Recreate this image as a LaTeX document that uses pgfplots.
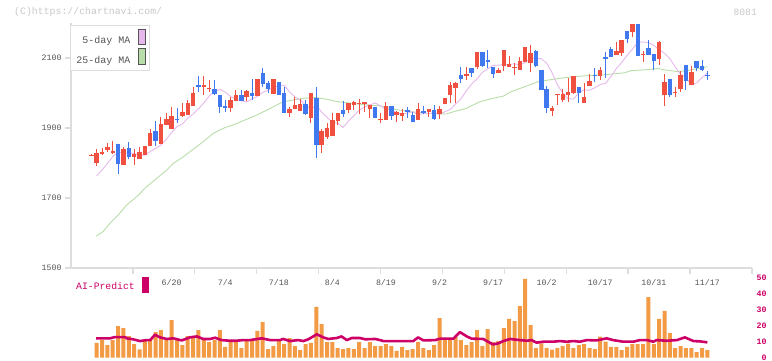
\documentclass[border=0pt]{standalone}
\usepackage{fontspec}
\usepackage{pgfplots}
\pgfplotsset{compat=1.18}
\usepackage{pgfplotstable}
\newfontfamily\mono{Liberation Mono}
\definecolor{upc}{HTML}{F05040}
\definecolor{dnc}{HTML}{4078F0}
\definecolor{volc}{HTML}{F39A45}
\definecolor{aic}{HTML}{CC0066}
\definecolor{maf}{HTML}{E6B8EC}
\definecolor{mas}{HTML}{B8DDA8}
\definecolor{gridc}{HTML}{DDDDDD}
\definecolor{txtc}{HTML}{555555}
\definecolor{wmc}{HTML}{C8C8C8}

\pgfplotstableread{
i O H L C
1 1821.5 1824.5 1821.0 1824.0
2 1801.0 1839.1 1791.5 1827.6
3 1826.7 1843.8 1823.8 1831.5
4 1838.1 1858.1 1831.5 1845.7
5 1828.6 1861.9 1825.7 1833.4
7 1794.3 1846.7 1794.3 1840.0
9 1818.1 1841.0 1794.3 1825.7
10 1810.5 1846.7 1810.5 1831.5
11 1822.9 1848.6 1822.9 1848.6
12 1848.6 1898.1 1848.6 1885.7
14 1855.3 1932.4 1855.3 1911.5
15 1909.6 1941.9 1909.6 1926.7
16 1897.2 1959.1 1897.2 1934.3
18 1935.3 1970.5 1932.4 1945.7
19 1938.1 1980.0 1938.1 1971.5
20 1963.8 2018.1 1963.8 2000.0
22 2018.5 2047.6 1995.3 2021.5
23 2010.5 2037.2 2003.8 2014.3
27 1958.1 1989.5 1946.7 1980.0
28 1978.1 2008.6 1978.1 1994.3
30 1987.6 2008.6 1978.1 2006.7
32 1991.5 2039.1 1991.5 2039.1
35 1997.2 2039.1 1997.2 2039.1
38 1943.8 1961.0 1930.5 1954.3
39 1953.4 1989.5 1953.4 1964.8
40 1949.5 1982.9 1949.5 1968.6
42 1929.6 2000.0 1915.3 2000.0
44 1852.4 1896.2 1829.6 1891.5
45 1875.3 1913.4 1867.6 1901.0
46 1877.2 1941.9 1877.2 1922.9
47 1921.0 1941.9 1908.6 1941.9
49 1951.5 1971.5 1943.8 1971.5
50 1966.7 1977.2 1951.5 1974.3
51 1969.0 1982.9 1939.1 1972.0
52 1969.6 1974.3 1946.7 1974.3
53 1953.4 1965.7 1929.6 1965.7
55 1921.9 1942.9 1915.3 1925.7
56 1923.8 1975.3 1923.8 1962.9
58 1938.1 1949.5 1918.1 1945.7
59 1935.3 1954.3 1921.0 1942.9
62 1923.8 1971.5 1923.8 1954.3
64 1946.7 1954.3 1932.4 1954.3
66 1940.0 1962.9 1924.8 1954.3
67 1969.6 1985.7 1969.6 1985.7
68 1995.3 2032.4 1970.5 2022.9
69 2015.3 2032.4 1970.5 2027.6
71 2050.0 2074.3 2037.2 2053.0
73 2075.3 2117.2 2067.6 2117.2
77 2058.1 2072.4 2056.2 2065.7
78 2078.1 2122.9 2063.8 2122.9
79 2075.3 2105.7 2075.3 2082.9
80 2071.0 2086.7 2051.5 2074.0
81 2066.7 2103.8 2066.7 2091.5
82 2089.6 2131.5 2089.6 2131.5
83 2084.8 2137.2 2061.0 2115.3
87 1949.5 1962.9 1935.3 1957.2
88 1994.5 1997.5 1965.7 1997.5
89 1981.0 2010.5 1975.3 1997.2
90 1995.3 2042.9 1975.3 2002.9
91 2000.0 2048.6 1997.2 2048.6
93 1972.4 2027.6 1972.4 1988.6
94 2021.0 2054.3 2021.0 2034.3
96 2049.6 2073.4 2037.2 2065.7
99 2109.6 2145.7 2109.6 2120.0
100 2115.3 2151.5 2106.7 2151.5
102 2175.3 2197.2 2159.1 2197.2
104 2107.6 2120.0 2089.6 2112.4
107 2097.2 2147.6 2080.0 2144.8
108 1995.3 2054.3 1962.9 2031.5
110 1999.1 2016.2 1989.5 2001.9
111 2012.4 2062.9 2002.9 2051.5
113 2023.8 2077.2 2023.8 2060.0
}\uptable

\pgfplotstableread{
i O H L C
6 1854.3 1854.3 1768.6 1797.2
8 1843.8 1859.1 1810.5 1818.1
13 1891.5 1920.0 1848.6 1862.9
17 1925.7 1957.2 1913.4 1921.9
21 2021.9 2048.6 2003.8 2018.1
24 2011.5 2037.2 1994.3 1997.2
25 1994.3 1994.3 1941.9 1961.0
26 1962.9 1980.0 1946.7 1958.1
29 1994.3 2008.6 1978.1 1978.1
31 1999.1 2039.1 1980.0 1991.5
33 2058.1 2070.5 2018.1 2025.7
34 2029.6 2035.3 1999.1 2012.4
36 2031.5 2031.5 1995.3 1995.3
37 1999.1 2018.1 1943.8 1943.8
41 1968.6 1980.0 1937.2 1940.0
43 1985.7 2017.2 1815.3 1852.4
48 1951.5 1977.2 1932.4 1940.0
54 1960.0 1960.0 1929.6 1929.6
57 1962.9 1962.9 1922.9 1935.3
60 1951.5 1961.0 1929.6 1946.7
61 1937.2 1944.8 1918.1 1918.1
63 1949.5 1962.9 1939.1 1943.8
65 1951.5 1965.7 1922.9 1925.7
70 2051.5 2075.3 2027.6 2040.0
72 2071.5 2071.5 2046.7 2058.1
74 2117.2 2117.2 2073.4 2077.2
75 2094.3 2122.9 2070.5 2089.6
76 2075.3 2075.3 2043.8 2055.3
84 2120.0 2122.9 2075.3 2078.1
85 2065.7 2065.7 2009.6 2009.6
86 2011.5 2020.0 1943.8 1958.1
92 2017.2 2017.2 1972.4 2001.0
95 2051.5 2071.5 2032.4 2048.5
97 2101.9 2116.2 2043.8 2097.2
98 2124.8 2130.5 2101.9 2101.9
101 2177.2 2177.2 2143.8 2154.3
103 2197.2 2197.2 2106.7 2106.7
105 2128.6 2151.5 2109.6 2109.6
106 2111.5 2111.5 2065.7 2092.4
109 2040.0 2040.0 1989.5 1994.3
112 2080.0 2080.0 2008.6 2035.3
114 2091.5 2091.5 2062.9 2072.4
115 2077.2 2094.3 2062.9 2065.7
116 2051.5 2062.9 2037.2 2048.5
}\downtable

\pgfplotstableread{
i v
2 9.2
3 11.0
4 7.9
5 11.0
6 19.8
7 18.5
8 13.5
9 8.5
10 5.2
11 11.0
12 11.0
13 16.0
14 17.3
15 11.0
16 23.5
17 11.0
18 7.9
19 13.5
20 13.5
21 17.3
22 11.0
23 9.8
24 11.0
25 17.3
26 6.7
27 9.8
28 9.8
29 6.0
30 11.0
31 11.5
32 16.7
33 22.3
34 5.4
35 7.3
36 10.4
37 8.5
38 12.3
39 7.3
40 4.8
41 8.5
42 9.2
43 31.7
44 21.0
45 9.8
46 9.8
47 6.0
48 5.4
49 6.0
50 5.4
51 9.8
52 6.0
53 9.8
54 7.3
55 7.3
56 8.5
57 7.3
58 4.2
59 6.7
60 4.8
61 5.4
62 9.8
63 6.0
64 4.8
65 7.9
66 24.8
67 12.3
68 11.0
69 12.9
70 11.0
71 7.9
72 9.8
73 17.3
74 7.3
75 17.9
76 9.8
77 10.4
78 18.5
79 24.2
80 22.9
81 32.3
82 49.2
83 20.4
84 6.0
85 9.0
86 6.0
87 5.0
88 6.0
89 7.3
90 8.8
91 6.0
92 7.9
93 8.5
94 6.0
95 5.4
96 13.1
97 10.0
98 6.7
99 6.7
100 4.8
101 6.7
102 8.5
103 8.5
104 8.5
105 37.9
106 8.5
107 24.2
108 29.2
109 15.4
110 6.0
111 7.3
112 6.0
113 6.0
114 3.5
115 6.0
116 4.8
}\voltable

\begin{document}
\begin{tikzpicture}
\path[use as bounding box] (0,0) rectangle (772bp,361bp);
\node[anchor=west, text=wmc, font=\mono\fontsize{9.9}{11}\selectfont, inner sep=0pt] at (14bp,349bp) {(C)https://chartnavi.com/};
\node[anchor=east, text=wmc, font=\mono\fontsize{9.7}{11}\selectfont, inner sep=0pt] at (757bp,349bp) {8081};

\begin{axis}[
  at={(71bp,93bp)}, anchor=south west, scale only axis,
  width=681bp, height=245bp,
  xmin=-2.79, xmax=124.33, ymin=1500, ymax=2200,
  axis x line=bottom, axis y line=left,
  axis line style={-, draw=gridc, line width=1.3bp},
  tick align=outside, major tick length=6bp,
  tick style={draw=gridc, line width=1.3bp},
  /pgf/number format/assume math mode=true,
  ytick={1500,1700,1900,2100}, yticklabels={1500,1700,1900,2100},
  yticklabel style={font=\mono\fontsize{8.3}{9}\selectfont, text=txtc},
  xtick={8.765,20.32,31.875,43.43,54.985,66.54,78.095,89.65,101.205,112.76,124.315},
  xticklabels={},
  extra x ticks={16,26,36,46,56,66,76,86,96,106,116},
  extra x tick labels={6/20,7/4,7/18,8/4,8/19,9/2,9/17,10/2,10/17,10/31,11/17},
  extra x tick style={major tick length=0pt, tick label style={font=\mono\fontsize{8.3}{9}\selectfont, text=txtc, yshift=-8bp}},
  legend plot pos=right, legend cell align=right,
  legend style={at={(0,1)}, anchor=north west, xshift=-1bp, yshift=-2bp,
    draw=gridc, line width=1bp, fill=white,
    font=\mono\fontsize{10}{11}\selectfont, text=txtc,
    inner xsep=4bp, inner ysep=3bp, row sep=1bp,
    /tikz/column 1/.style={column sep=6bp}},
]
\addlegendimage{legend image code/.code={\draw[draw=txtc, fill=maf, line width=1bp] (0bp,-3.5bp) rectangle (6.7bp,12bp);}}
\addlegendentry{5-day MA}
\addlegendimage{legend image code/.code={\draw[draw=txtc, fill=mas, line width=1bp] (0bp,-3.5bp) rectangle (6.7bp,12bp);}}
\addlegendentry{25-day MA}

\addplot[mas, line width=0.9bp, forget plot] coordinates {
(1.9,1591) (3.2,1604) (4.5,1628) (6.0,1651) (7.6,1680) (9.5,1704) (11.3,1732) (13.2,1756) (15.1,1780) (16.3,1799) (18.2,1818) (20.0,1839) (21.9,1861) (23.8,1885) (25.6,1899) (27.5,1909) (29.4,1921) (31.9,1937) (34.4,1956) (36.8,1975) (38.7,1980) (40.6,1985) (43.0,1987) (45.0,1982) (47.0,1975) (51.1,1968) (55.0,1963) (57.3,1954) (60.4,1947) (63.5,1942) (67.3,1940) (68.5,1946) (71.0,1956) (73.5,1975) (76.0,1985) (77.9,1991) (79.4,2004) (81.9,2018) (84.4,2032) (86.3,2037) (89.4,2044) (93.1,2049) (97.5,2053) (100.6,2058) (101.8,2064) (104.3,2066) (106.8,2070) (108.0,2066) (110.5,2061) (113.0,2066) (116.0,2075)
};
\addplot[maf, line width=0.9bp, forget plot] coordinates {
(2,1763) (3,1780) (4,1799) (5,1818) (6,1832.2) (7,1827.1) (8,1829.6) (9,1826.9) (10,1822.9) (11,1822.5) (12,1832.8) (13,1841.9) (14,1850.9) (15,1868.0) (16,1887.1) (17,1904.2) (18,1911.5) (19,1928.0) (20,1940.0) (21,1954.7) (22,1971.4) (23,1991.3) (24,2005.0) (25,2010.1) (26,2002.3) (27,1990.3) (28,1982.1) (29,1978.1) (30,1974.3) (31,1983.4) (32,1990.1) (33,2001.9) (34,2008.2) (35,2015.1) (36,2021.6) (37,2022.3) (38,2003.3) (39,1989.0) (40,1979.5) (41,1965.4) (42,1954.3) (43,1965.5) (44,1945.2) (45,1930.5) (46,1917.0) (47,1913.6) (48,1901.9) (49,1919.5) (50,1935.5) (51,1950.1) (52,1959.8) (53,1966.3) (54,1971.5) (55,1963.1) (56,1953.4) (57,1951.6) (58,1943.8) (59,1939.8) (60,1942.5) (61,1946.7) (62,1937.7) (63,1941.5) (64,1941.2) (65,1943.4) (66,1939.2) (67,1946.5) (68,1952.8) (69,1968.6) (70,1983.2) (71,2006.1) (72,2025.7) (73,2040.2) (74,2059.1) (75,2069.0) (76,2078.9) (77,2079.5) (78,2081.0) (79,2082.1) (80,2083.3) (81,2080.0) (82,2087.3) (83,2100.4) (84,2098.9) (85,2098.0) (86,2085.2) (87,2058.5) (88,2023.7) (89,2000.0) (90,1983.9) (91,1982.5) (92,2000.6) (93,2009.4) (94,2007.7) (95,2015.1) (96,2024.4) (97,2027.8) (98,2047.1) (99,2069.7) (100,2086.9) (101,2107.3) (102,2125.0) (103,2145.0) (104,2145.9) (105,2144.4) (106,2136.0) (107,2123.7) (108,2113.2) (109,2098.1) (110,2074.5) (111,2053.0) (112,2044.8) (113,2022.9) (114,2028.6) (115,2044.2) (116,2057.0)
};

% wicks
\addplot[draw=none, mark=none, forget plot,
  error bars/.cd, y dir=plus, y explicit, error mark=none,
  error bar style={draw=upc, solid, line width=1bp}]
  table[x=i, y=L, y error expr=\thisrow{H}-\thisrow{L}] {\uptable};
\addplot[draw=none, mark=none, forget plot,
  error bars/.cd, y dir=plus, y explicit, error mark=none,
  error bar style={draw=dnc, solid, line width=1bp}]
  table[x=i, y=L, y error expr=\thisrow{H}-\thisrow{L}] {\downtable};
% bodies
\addplot[draw=none, mark=none, forget plot,
  error bars/.cd, y dir=plus, y explicit, error mark=none,
  error bar style={draw=upc, solid, line width=4.4bp}]
  table[x=i, y=O, y error expr=\thisrow{C}-\thisrow{O}] {\uptable};
\addplot[draw=none, mark=none, forget plot,
  error bars/.cd, y dir=plus, y explicit, error mark=none,
  error bar style={draw=dnc, solid, line width=4.4bp}]
  table[x=i, y=C, y error expr=\thisrow{O}-\thisrow{C}] {\downtable};
\end{axis}

\begin{axis}[
  at={(71bp,3.3bp)}, anchor=south west, scale only axis,
  width=681bp, height=80bp,
  xmin=-2.79, xmax=124.33, ymin=0, ymax=50,
  axis x line=none, axis y line=right,
  y axis line style={draw=none},
  major tick length=0pt,
  /pgf/number format/assume math mode=true,
  ytick={0,10,20,30,40,50}, yticklabels={0,10,20,30,40,50},
  yticklabel style={font=\mono\bfseries\fontsize{8.3}{9}\selectfont, text=aic, anchor=east, xshift=18bp},
]
\addplot[ybar, bar width=4bp, bar shift=0pt, fill=volc, draw=none, forget plot] table[x=i, y=v] {\voltable};
\addplot[aic, line width=2.6bp, line join=round, forget plot] coordinates {
(1.9,12.1) (4.5,12.1) (5.4,12.9) (7.3,12.9) (7.6,12.1) (8.8,11.5) (10.1,10.4) (11.3,11) (12.0,11) (12.9,14.4) (13.8,12.7) (15.1,11.7) (16.3,12.1) (17.9,10.8) (19.4,12.7) (20.7,13.3) (21.9,11.7) (23.2,11.7) (24.1,12.5) (25.3,11) (26.9,10.6) (28.1,10.6) (29.4,11) (30.6,11) (32.8,12.1) (34.4,11) (36.2,11) (36.8,11.7) (38.1,10.4) (39.6,11) (40.6,10.4) (41.5,11.5) (43.1,14.6) (44.3,12.7) (45.2,11.7) (46.8,12.3) (47.7,13.3) (48.7,11) (49.6,12.3) (51.2,12.3) (52.1,11.5) (54.0,11.7) (54.9,11) (55.5,10.4) (61.1,10.4) (62.0,12.7) (63.0,10.8) (65.2,11) (66.1,11.9) (68.6,11.9) (69.8,16) (71.1,13.3) (72.0,11.9) (74.2,11.7) (74.8,10.4) (76.0,8.3) (77.0,9) (77.9,10.4) (79.2,11.7) (81.0,11) (82.3,10.6) (83.2,11) (84.1,9.4) (85.4,10) (87.2,10) (88.5,10.4) (89.7,10) (91.0,10.4) (92.2,10) (93.5,11) (95.3,10.8) (97.2,12.1) (98.4,11) (100.3,10) (102.2,10) (103.4,11) (104.7,11) (105.9,10) (106.5,11) (108.4,10.6) (110.3,11) (111.8,12.7) (113.4,10.4) (114.6,10.2) (116.0,9.6)
};
\end{axis}

\node[anchor=west, text=aic, font=\mono\fontsize{9.8}{11}\selectfont, inner sep=0pt] at (76bp,75bp) {AI-Predict};
\fill[aic] (142bp,68.3bp) rectangle (148.7bp,84.3bp);
\end{tikzpicture}
\end{document}
